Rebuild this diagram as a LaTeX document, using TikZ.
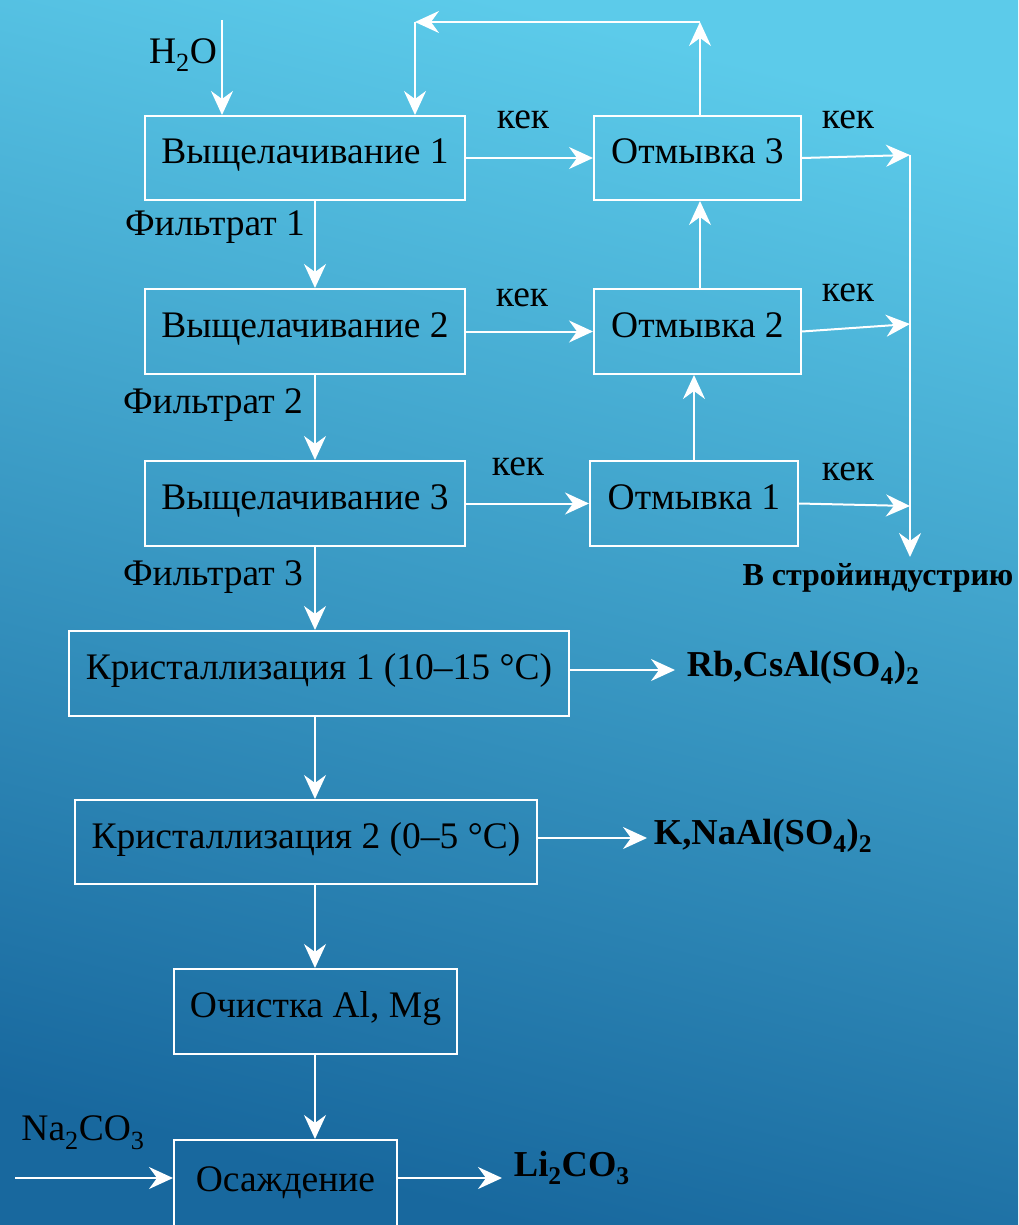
\documentclass[tikz,border=0pt]{standalone}
\usepackage{fontspec}
\setmainfont{Liberation Serif}
\usetikzlibrary{arrows.meta}
\definecolor{bgtop}{RGB}{92,203,234}
\definecolor{bgbot}{RGB}{24,104,158}
\tikzset{
  stage/.style={draw=white, line width=2pt, inner sep=0pt, text=black, text height=27pt, text depth=15pt, font=\fontsize{37.5}{41}\selectfont},
  flow/.style={draw=white, line width=2pt, -{Stealth[length=24pt,width=22pt,inset=8pt]}},
  wire/.style={draw=white, line width=2pt},
  lbl/.style={inner sep=0.75pt, text=black, font=\fontsize{37.5}{41}\selectfont},
  prod/.style={inner sep=0.75pt, text=black, font=\fontsize{36.5}{40}\selectfont\bfseries},
}
\begin{document}
\begin{tikzpicture}[x=1pt,y=1pt,yscale=-1,xscale=1]
\useasboundingbox (0,0) rectangle (1018,1225);
%Background
\shade [top color=bgtop, bottom color=bgbot, shading angle=-14] (0,0) rectangle (1018,1225);

%Shape: Rectangle
\node [stage, minimum width=320, minimum height=84] (vy1) at (305,158) {Выщелачивание 1};
%Shape: Rectangle
\node [stage, minimum width=320, minimum height=85] (vy2) at (305,331.5) {Выщелачивание 2};
%Shape: Rectangle
\node [stage, minimum width=320, minimum height=85] (vy3) at (305,503.5) {Выщелачивание 3};
%Shape: Rectangle
\node [stage, minimum width=207, minimum height=84] (otm3) at (697.5,158) {Отмывка 3};
%Shape: Rectangle
\node [stage, minimum width=207, minimum height=85] (otm2) at (697.5,331.5) {Отмывка 2};
%Shape: Rectangle
\node [stage, minimum width=208, minimum height=85] (otm1) at (694,503.5) {Отмывка 1};
%Shape: Rectangle
\node [stage, minimum width=500, minimum height=85] (kr1) at (319,673.5) {Кристаллизация 1 (10--15 °C)};
%Shape: Rectangle
\node [stage, minimum width=462, minimum height=84] (kr2) at (306,842) {Кристаллизация 2 (0--5 °C)};
%Shape: Rectangle
\node [stage, minimum width=283, minimum height=85] (och) at (315.5,1011.5) {Очистка Al, Mg};
%Shape: Rectangle
\node [stage, minimum width=223, minimum height=90] (osa) at (285.5,1185) {Осаждение};

%Free ends
\coordinate (mainx) at (315,0);
\coordinate (h2oin) at (222,20);
\coordinate (topr) at (700,22);
\coordinate (topl) at (415,22);
\coordinate (k3) at (910,155);
\coordinate (k2) at (910,324);
\coordinate (k1) at (910,506);
\coordinate (sbot) at (910,557);
\coordinate (rbout) at (675,670);
\coordinate (naout) at (647,838);
\coordinate (nain) at (15,1178);
\coordinate (liout) at (502,1178);

%Straight Lines
\draw [flow] (h2oin) -- (h2oin |- vy1.north);
\draw [flow] (otm3.north -| topr) -- (topr);
\draw [flow] (topr) -- (topl);
\draw [flow] (topl) -- (topl |- vy1.north);
\draw [flow] (vy1.east) -- (otm3.west);
\draw [flow] (vy2.east) -- (otm2.west);
\draw [flow] (vy3.east) -- (otm1.west);
\draw [flow] (otm3.east) -- (k3);
\draw [flow] (otm2.east) -- (k2);
\draw [flow] (otm1.east) -- (k1);
\draw [wire] (k3) -- (k1);
\draw [flow] (k1) -- (sbot);
\draw [flow] (otm2.north -| topr) -- (topr |- otm3.south);
\draw [flow] (otm1.north) -- (otm1.north |- otm2.south);
\draw [flow] (vy1.south -| mainx) -- (vy2.north -| mainx);
\draw [flow] (vy2.south -| mainx) -- (vy3.north -| mainx);
\draw [flow] (vy3.south -| mainx) -- (kr1.north -| mainx);
\draw [flow] (kr1.south -| mainx) -- (kr2.north -| mainx);
\draw [flow] (kr2.south -| mainx) -- (och.north -| mainx);
\draw [flow] (och.south -| mainx) -- (osa.north -| mainx);
\draw [flow] (kr1.east |- rbout) -- (rbout);
\draw [flow] (kr2.east |- naout) -- (naout);
\draw [flow] (nain) -- (nain -| osa.west);
\draw [flow] (osa.east |- liout) -- (liout);

% Text Node
\node [lbl] (h2o) at (183,55) {H\textsubscript{2}O};
% Text Node
\node [lbl] (kek1) at (523,120) {кек};
% Text Node
\node [lbl] (kek2) at (522,298) {кек};
% Text Node
\node [lbl] (kek3) at (518,467) {кек};
% Text Node
\node [lbl] (kek4) at (848,120) {кек};
% Text Node
\node [lbl] (kek5) at (848,293) {кек};
% Text Node
\node [lbl] (kek6) at (848,472) {кек};
% Text Node
\node [lbl] (fil1) at (215,227) {Фильтрат 1};
% Text Node
\node [lbl] (fil2) at (213,405) {Фильтрат 2};
% Text Node
\node [lbl] (fil3) at (213,577) {Фильтрат 3};
% Text Node
\node [prod, font=\fontsize{32}{36}\selectfont\bfseries] (stroy) at (878,578) {В стройиндустрию};
% Text Node
\node [prod, anchor=west] (rbcs) at (686,668) {Rb,CsAl(SO\textsubscript{4})\textsubscript{2}};
% Text Node
\node [prod, anchor=west] (kna) at (653,836) {K,NaAl(SO\textsubscript{4})\textsubscript{2}};
% Text Node
\node [lbl] (na2co3) at (83,1133) {Na\textsubscript{2}CO\textsubscript{3}};
% Text Node
\node [prod, anchor=west] (li2co3) at (513,1168) {Li\textsubscript{2}CO\textsubscript{3}};

\end{tikzpicture}
\end{document}
